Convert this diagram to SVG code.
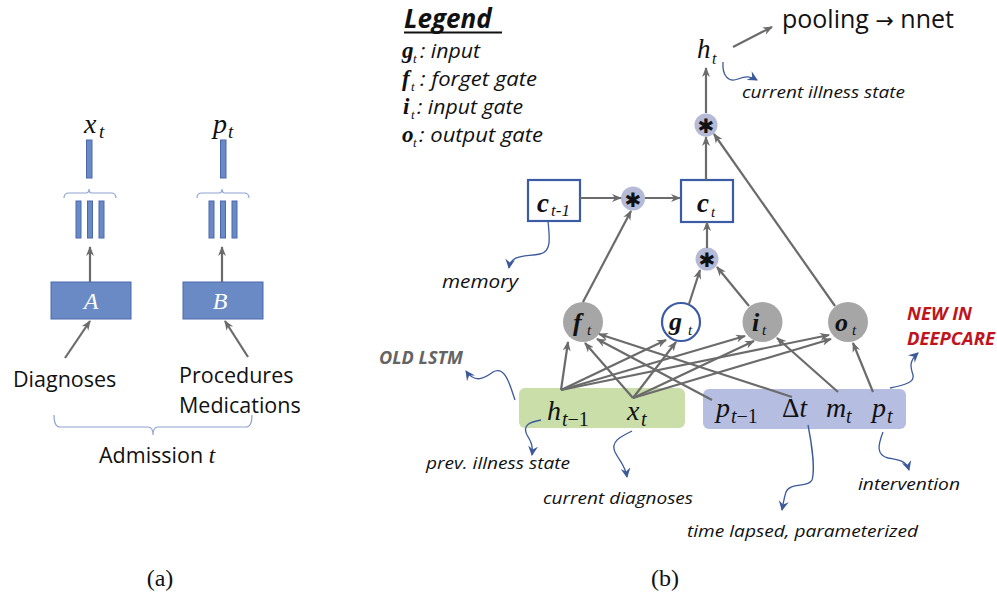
<svg xmlns="http://www.w3.org/2000/svg" width="997" height="601" viewBox="0 0 997 601">
<style>
.sans{font-family:"Open Sans","Liberation Sans",sans-serif;fill:#111}
.ann{font-family:"Open Sans","Liberation Sans",sans-serif;font-style:italic;fill:#111}
.math{font-family:"Liberation Serif","DejaVu Serif",serif;font-style:italic;fill:#111}
.bm{font-family:"Liberation Serif","DejaVu Serif",serif;font-style:italic;font-weight:bold;fill:#111}
.cm{font-family:"Liberation Serif","DejaVu Serif",serif;fill:#111}
.conn{stroke:#6b6b6b;stroke-width:2.2;fill:none;marker-end:url(#ah)}
.blue{stroke:#3c5a9a;stroke-width:1.3;fill:none;marker-end:url(#bh)}
.bar{fill:#6a8ac6;stroke:#4a68ad;stroke-width:1}
.brace{stroke:#8ea4d2;stroke-width:1.2;fill:none}
.gate{fill:#a6a6a6}
.mul{fill:#b5bad6}
.star{font-family:"DejaVu Sans",sans-serif;font-weight:bold;fill:#111;text-anchor:middle}
.cell{fill:#fff;stroke:#3b5ba5;stroke-width:2.2}
</style>
<defs>
<marker id="ah" viewBox="0 0 10 10" refX="9" refY="5" markerWidth="10" markerHeight="10" markerUnits="userSpaceOnUse" orient="auto"><path d="M0,1 L10,5 L0,9 L3,5 z" fill="#6b6b6b"/></marker>
<marker id="bh" viewBox="0 0 10 10" refX="9" refY="5" markerWidth="10" markerHeight="10" markerUnits="userSpaceOnUse" orient="auto"><path d="M0,0 L10,5 L0,10 L3.5,5 z" fill="#3c5a9a"/></marker>
</defs>
<rect width="997" height="601" fill="#fff"/>

<!-- Panel (a) -->
<g id="a-xt">
<text class="math" x="84" y="133" font-size="28">x</text><text class="math" x="99" y="138" font-size="19">t</text>
<rect class="bar" x="86.5" y="140" width="5.5" height="38"/>
<path class="brace" d="M64,198 Q64,193 69,193 L86,193 Q89,193 89,189 Q89,193 92,193 L111,193 Q116,193 116,198"/>
<rect class="bar" x="76" y="201" width="5" height="37"/>
<rect class="bar" x="87.5" y="201" width="5" height="37"/>
<rect class="bar" x="99" y="201" width="5" height="37"/>
</g>
<g id="a-pt">
<text class="math" x="213" y="133" font-size="28">p</text><text class="math" x="228" y="138" font-size="19">t</text>
<rect class="bar" x="220.5" y="140" width="5.5" height="38"/>
<path class="brace" d="M197,198 Q197,193 202,193 L219,193 Q222,193 222,189 Q222,193 225,193 L244,193 Q249,193 249,198"/>
<rect class="bar" x="209" y="201" width="5" height="37"/>
<rect class="bar" x="220.5" y="201" width="5" height="37"/>
<rect class="bar" x="232" y="201" width="5" height="37"/>
</g>
<g id="box-A">
<rect x="51" y="282" width="80" height="37" fill="#6a8ac6" stroke="#4a68ad" stroke-width="1"/>
<text x="91" y="309" font-size="24" font-family="Liberation Serif, serif" font-style="italic" fill="#fff" text-anchor="middle">A</text>
</g>
<g id="box-B">
<rect x="183" y="282" width="80" height="37" fill="#6a8ac6" stroke="#4a68ad" stroke-width="1"/>
<text x="220" y="309" font-size="24" font-family="Liberation Serif, serif" font-style="italic" fill="#fff" text-anchor="middle">B</text>
</g>
<g id="a-labels">
<text class="sans" x="13" y="387" font-size="21.5">Diagnoses</text>
<text class="sans" x="179" y="383" font-size="21.5">Procedures</text>
<text class="sans" x="179" y="413" font-size="21.5">Medications</text>
<path class="brace" d="M54,415 Q54,427 60,427 L148,427 Q153,427 153,435 Q153,427 158,427 L246,427 Q252,427 252,415"/>
<text class="sans" x="99" y="463" font-size="21.5">Admission <tspan class="math" font-size="23">t</tspan></text>
<text class="cm" x="160" y="586" font-size="24" text-anchor="middle">(a)</text>
</g>
<g id="a-connectors">
<line class="conn" x1="90" y1="282" x2="90" y2="247"/>
<line class="conn" x1="222" y1="282" x2="222" y2="247"/>
<line class="conn" x1="65" y1="358" x2="90" y2="321"/>
<line class="conn" x1="248" y1="357" x2="225" y2="321"/>
</g>

<!-- Panel (b) -->
<g id="legend">
<text class="sans" x="404" y="28" font-size="26" font-weight="bold" font-style="italic">Legend</text>
<line x1="404" y1="32.5" x2="502" y2="32.5" stroke="#111" stroke-width="2"/>
<text class="bm" x="402" y="58" font-size="23">g</text><text class="math" x="413" y="63" font-size="13">t</text><text class="ann" x="420" y="58" font-size="20" textLength="60" lengthAdjust="spacingAndGlyphs">: input</text>
<text class="bm" x="402" y="86" font-size="23">f</text><text class="math" x="411" y="91" font-size="13">t</text><text class="ann" x="420" y="86" font-size="20" textLength="117" lengthAdjust="spacingAndGlyphs">: forget gate</text>
<text class="bm" x="403" y="114" font-size="23">i</text><text class="math" x="411" y="119" font-size="13">t</text><text class="ann" x="417" y="114" font-size="20" textLength="106" lengthAdjust="spacingAndGlyphs">: input gate</text>
<text class="bm" x="402" y="142" font-size="23">o</text><text class="math" x="413" y="147" font-size="13">t</text><text class="ann" x="419" y="142" font-size="20" textLength="124" lengthAdjust="spacingAndGlyphs">: output gate</text>
</g>
<g id="ht">
<text class="math" x="697" y="58" font-size="27">h</text><text class="math" x="712" y="64" font-size="16">t</text>
</g>
<g id="pooling">
<text class="sans" x="782" y="28" font-size="25">pooling <tspan font-family="DejaVu Sans, sans-serif" font-size="22">→</tspan> nnet</text>
</g>
<g id="mul-top">
<circle class="mul" cx="706" cy="125" r="11.5"/>
<text class="star" x="706" y="133" font-size="20">✱</text>
</g>
<g id="ct">
<rect class="cell" x="681" y="180" width="52" height="42"/>
<text class="bm" x="697" y="212" font-size="27">c</text><text class="math" x="711" y="217" font-size="15">t</text>
</g>
<g id="ct-1">
<rect class="cell" x="528" y="180" width="52" height="41"/>
<text class="bm" x="537" y="212" font-size="27">c</text><text class="math" x="551" y="216" font-size="17">t-1</text>
</g>
<g id="mul-mid">
<circle class="mul" cx="633" cy="198.5" r="12"/>
<text class="star" x="633" y="206.5" font-size="20">✱</text>
</g>
<g id="mul-low">
<circle class="mul" cx="707" cy="259" r="11.5"/>
<text class="star" x="707" y="267" font-size="20">✱</text>
</g>
<g id="gate-f">
<circle class="gate" cx="583" cy="322" r="20"/>
<text class="bm" x="573" y="331" font-size="26">f</text><text class="math" x="587" y="335" font-size="15">t</text>
</g>
<g id="gate-g">
<circle cx="681" cy="322" r="19" fill="#fff" stroke="#3b5ba5" stroke-width="2.2"/>
<text class="bm" x="669" y="330" font-size="26">g</text><text class="math" x="688" y="335" font-size="15">t</text>
</g>
<g id="gate-i">
<circle class="gate" cx="762.5" cy="322" r="20"/>
<text class="bm" x="752" y="331" font-size="26">i</text><text class="math" x="762" y="335" font-size="15">t</text>
</g>
<g id="gate-o">
<circle class="gate" cx="848" cy="322" r="20"/>
<text class="bm" x="835" y="331" font-size="26">o</text><text class="math" x="852" y="335" font-size="15">t</text>
</g>
<g id="old-inputs">
<rect x="519" y="388" width="166" height="40" rx="6" fill="#c9dea9"/>
<text class="math" x="547" y="420" font-size="28">h</text><text class="math" x="562" y="426" font-size="20">t<tspan font-style="normal">−1</tspan></text>
<text class="math" x="627" y="420" font-size="28">x</text><text class="math" x="641" y="426" font-size="20">t</text>
</g>
<g id="new-inputs">
<rect x="703" y="389" width="203" height="40" rx="6" fill="#b5bde1"/>
<text class="math" x="716" y="417" font-size="28">p</text><text class="math" x="731" y="423" font-size="20">t<tspan font-style="normal">−1</tspan></text>
<text class="cm" x="782" y="417" font-size="27">Δ<tspan font-style="italic">t</tspan></text>
<text class="math" x="826" y="417" font-size="28">m</text><text class="math" x="846" y="423" font-size="20">t</text>
<text class="math" x="872" y="417" font-size="28">p</text><text class="math" x="887" y="423" font-size="20">t</text>
</g>
<g id="annotations">
<text class="ann" x="742" y="98" font-size="17" textLength="163" lengthAdjust="spacingAndGlyphs">current illness state</text>
<text class="ann" x="442" y="288" font-size="19" textLength="76" lengthAdjust="spacingAndGlyphs">memory</text>
<text class="ann" x="379" y="364" font-size="17" font-weight="bold" style="fill:#646464" textLength="84" lengthAdjust="spacingAndGlyphs">OLD LSTM</text>
<text class="ann" x="426" y="469" font-size="17" textLength="144" lengthAdjust="spacingAndGlyphs">prev. illness state</text>
<text class="ann" x="543" y="504" font-size="17" textLength="150" lengthAdjust="spacingAndGlyphs">current diagnoses</text>
<text class="ann" x="687" y="537" font-size="17" textLength="231" lengthAdjust="spacingAndGlyphs">time lapsed, parameterized</text>
<text class="ann" x="858" y="490" font-size="17" textLength="102" lengthAdjust="spacingAndGlyphs">intervention</text>
<text class="ann" x="907" y="320" font-size="17" font-weight="bold" style="fill:#c0141c" textLength="65" lengthAdjust="spacingAndGlyphs">NEW IN</text>
<text class="ann" x="907" y="345" font-size="17" font-weight="bold" style="fill:#c0141c" textLength="88" lengthAdjust="spacingAndGlyphs">DEEPCARE</text>
<text class="cm" x="665" y="586" font-size="24" text-anchor="middle">(b)</text>
</g>
<g id="connectors">
<line class="conn" x1="733" y1="47" x2="772" y2="27"/>
<line class="conn" x1="706" y1="113" x2="706" y2="68"/>
<line class="conn" x1="706" y1="180" x2="706" y2="137"/>
<line class="conn" x1="707" y1="248" x2="707" y2="222"/>
<line class="conn" x1="580" y1="198" x2="621" y2="198"/>
<line class="conn" x1="645" y1="198" x2="680" y2="198"/>
<line class="conn" x1="583" y1="302" x2="631" y2="211"/>
<line class="conn" x1="689" y1="304" x2="700" y2="270"/>
<line class="conn" x1="749" y1="306" x2="717" y2="267"/>
<line class="conn" x1="835" y1="306" x2="714" y2="134"/>
<line class="conn" x1="561" y1="390" x2="568" y2="342"/>
<line class="conn" x1="561" y1="390" x2="666" y2="340"/>
<line class="conn" x1="561" y1="390" x2="745" y2="336"/>
<line class="conn" x1="561" y1="390" x2="829" y2="335"/>
<line class="conn" x1="633" y1="398" x2="585" y2="343"/>
<line class="conn" x1="633" y1="398" x2="676" y2="342"/>
<line class="conn" x1="633" y1="398" x2="754" y2="341"/>
<line class="conn" x1="633" y1="398" x2="831" y2="339"/>
<line class="conn" x1="712" y1="400" x2="597" y2="339"/>
<line class="conn" x1="792" y1="397" x2="599" y2="334"/>
<line class="conn" x1="838" y1="392" x2="777" y2="338"/>
<line class="conn" x1="873" y1="392" x2="853" y2="343"/>
<path class="blue" d="M723,62 C722,75 728,83 738,79 C746,76 750,76 757,80"/>
<path class="blue" d="M548,221 C550,240 551,252 540,254 C525,257 511,254 509,268"/>
<path class="blue" d="M515,400 C510,385 505,365 493,372 C485,378 475,384 466,371"/>
<path class="blue" d="M541,420 C530,422 522,425 527,435 C532,443 533,447 532,455"/>
<path class="blue" d="M632,431 C622,436 610,441 615,452 C620,462 625,465 627,477"/>
<path class="blue" d="M808,425 C812,445 815,470 812,480 C808,488 790,482 786,492 C784,498 783,505 782,510"/>
<path class="blue" d="M883,432 C878,445 876,455 888,458 C898,460 906,460 909,470"/>
<path class="blue" d="M890,388 C905,385 915,382 913,375 C911,368 908,362 918,353"/>
</g>
</svg>
